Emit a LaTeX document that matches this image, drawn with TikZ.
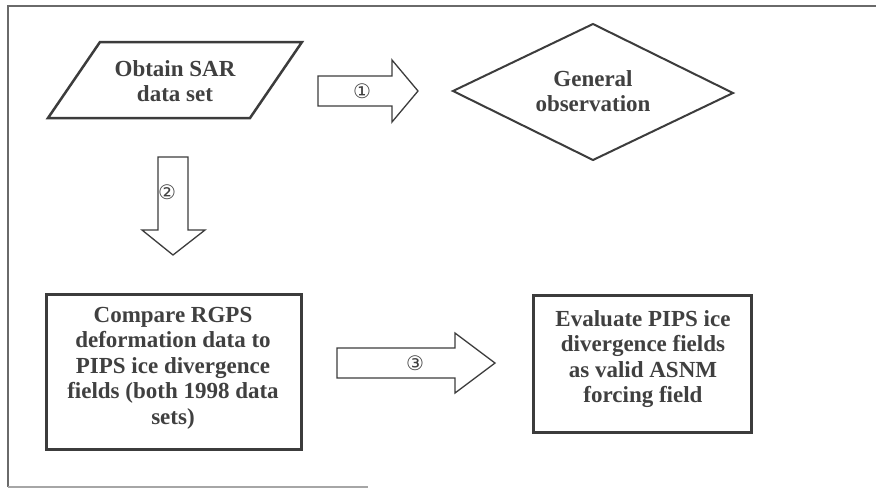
\documentclass[tikz,border=0pt]{standalone}
\usepackage{fontspec}
\setmainfont{Liberation Serif}
\newfontfamily\circfont{DejaVu Sans}
\usetikzlibrary{shapes.geometric}
\definecolor{ink}{HTML}{3C3C3C}
\definecolor{txt}{HTML}{404040}
\definecolor{framec}{HTML}{6A6A6A}
\begin{document}
\begin{tikzpicture}[x=1pt,y=-1pt,
  lbl/.style={font=\fontsize{23}{25.5}\selectfont\bfseries, text=txt, align=center, inner sep=0pt},
  num/.style={font=\circfont\fontsize{20}{20}\selectfont, text=txt, inner sep=0pt},
  blockarrow/.style={draw=ink, line width=1.3pt, line join=miter, fill=white},
  thickbox/.style={draw=ink, line width=3pt}]
\useasboundingbox (0,0) rectangle (876,488);
\fill[white] (0,0) rectangle (876,488);
% frame
\draw[framec, line width=1.8pt] (8,487) -- (8,6) -- (876,6);
\draw[gray!70, line width=1.2pt] (8,487) -- (368,487);
% parallelogram
\draw[ink, line width=2.5pt, line join=miter] (100,42) -- (302,42) -- (250,118) -- (48,118) -- cycle;
\node[lbl] (sar) at (175,81) {Obtain SAR\\data set};
% diamond
\draw[ink, line width=2pt, line join=miter] (453,91) -- (593,24) -- (733,93) -- (593,160) -- cycle;
\node[lbl] (gen) at (593,91) {General\\observation};
% box 1
\draw[thickbox] (46,294) rectangle (301,449);
\node[lbl] (cmp) at (173,368) {Compare RGPS\\deformation data to\\PIPS ice divergence\\fields (both 1998 data\\sets)};
% box 2
\draw[thickbox] (533,295) rectangle (751,432);
\node[lbl] (eval) at (643,359) {Evaluate PIPS ice\\divergence fields\\as valid ASNM\\forcing field};
% arrow 1
\draw[blockarrow] (318,76) -- (392,76) -- (392,60) -- (418,91) -- (392,122) -- (392,106) -- (318,106) -- cycle;
\node[num] (n1) at (362,91) {①};
% arrow 2
\draw[blockarrow] (158,157) -- (188,157) -- (188,230) -- (205,230) -- (173,255) -- (142,230) -- (158,230) -- cycle;
\node[num] (n2) at (167,192) {②};
% arrow 3
\draw[blockarrow] (337,348) -- (455,348) -- (455,333) -- (495,363) -- (455,393) -- (455,378) -- (337,378) -- cycle;
\node[num] (n3) at (415,363) {③};
\end{tikzpicture}
\end{document}
